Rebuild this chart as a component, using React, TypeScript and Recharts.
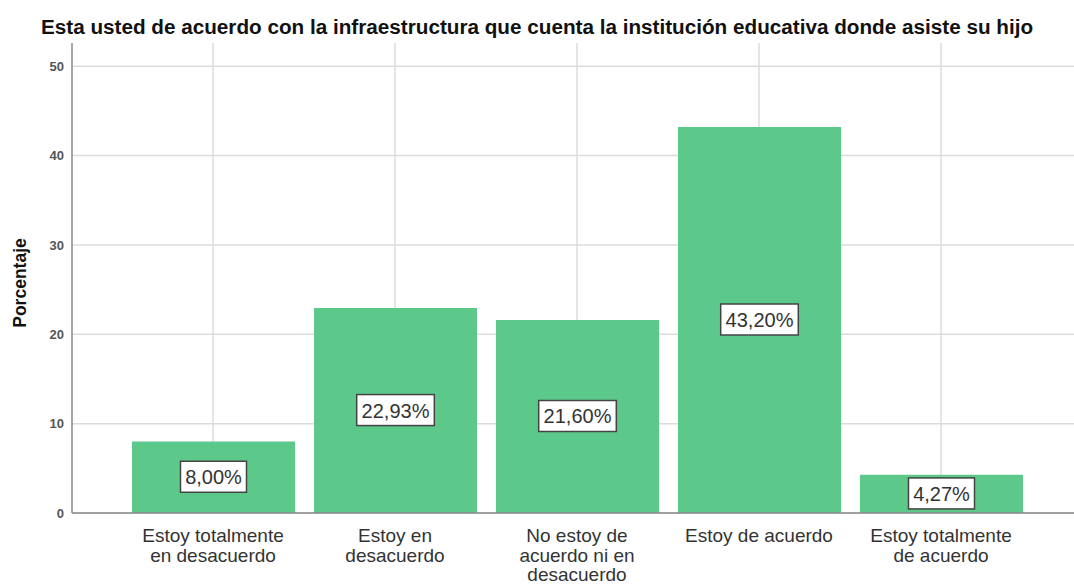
import React from 'react';
import { BarChart, Bar, XAxis, YAxis, CartesianGrid, LabelList } from 'recharts';

const tickLines = [
  ['Estoy totalmente', 'en desacuerdo'],
  ['Estoy en', 'desacuerdo'],
  ['No estoy de', 'acuerdo ni en', 'desacuerdo'],
  ['Estoy de acuerdo'],
  ['Estoy totalmente', 'de acuerdo'],
];
const categories = tickLines.map(l => l.join(' '));
const percentages = [8.0, 22.93, 21.6, 43.2, 4.27];
const yTicks = [0, 10, 20, 30, 40, 50];

const data = categories.map((c, i) => ({ category: c, pct: percentages[i] }));

const font = '"Liberation Sans", Arial, sans-serif';

function CategoryTick(props: any) {
  const { x, y, index } = props;
  const lines = tickLines[index] || [];
  return (
    <g>
      {lines.map((line, i) => (
        <text key={i} x={x} y={y + 21 + i * 19.5} textAnchor="middle"
          fontFamily={font} fontSize={19} fill="#333">
          {line}
        </text>
      ))}
    </g>
  );
}

function PctLabel(props: any) {
  const { x, y, width, height, value } = props;
  const cx = x + width / 2;
  const cy = y + height / 2;
  const text = value.toFixed(2).replace('.', ',') + '%';
  const w = text.length * 11.6 + 8;
  return (
    <g>
      <rect x={cx - w / 2} y={cy - 16} width={w} height={31} fill="#fff"
        stroke="#444" strokeWidth={1.5} />
      <text x={cx} y={cy + 7} textAnchor="middle" fontFamily={font}
        fontSize={20} fill="#333">
        {text}
      </text>
    </g>
  );
}

export default function App() {
  return (
    <div style={{ position: 'absolute', left: 0, top: 0, width: 1074, height: 585, background: '#fff', overflow: 'hidden' }}>
      <style>{'body{margin:0;overflow:hidden}'}</style>
      <div style={{
        position: 'absolute', top: 15, left: 0, width: 1074, textAlign: 'center',
        fontFamily: font, fontWeight: 'bold', fontSize: 20.7, color: '#111', whiteSpace: 'nowrap'
      }}>
        Esta usted de acuerdo con la infraestructura que cuenta la institución educativa donde asiste su hijo
      </div>
      <div style={{
        position: 'absolute', left: 20, top: 283, transform: 'translate(-50%, -50%) rotate(-90deg)',
        fontFamily: font, fontWeight: 'bold', fontSize: 17.5, color: '#111', whiteSpace: 'nowrap'
      }}>
        Porcentaje
      </div>
      <BarChart width={1074} height={585} data={data}
        margin={{ top: 43, right: 0, bottom: 0, left: 0 }}>
        <CartesianGrid stroke="#dcdcdc" strokeWidth={1.5} syncWithTicks />
        <XAxis dataKey="category" interval={0} tickLine={false} height={72}
          padding={{ left: 50, right: 42 }}
          axisLine={{ stroke: '#888', strokeWidth: 1.5 }}
          tick={<CategoryTick />} />
        <YAxis width={72} domain={[0, 52.6]} ticks={yTicks} tickLine={false}
          axisLine={{ stroke: '#888', strokeWidth: 1.5 }}
          tick={{ fontFamily: font, fontSize: 13, fontWeight: 'bold', fill: '#555' }} />
        <Bar dataKey="pct" fill="#5cc98b" barSize={163} isAnimationActive={false}>
          <LabelList dataKey="pct" content={<PctLabel />} />
        </Bar>
      </BarChart>
    </div>
  );
}
